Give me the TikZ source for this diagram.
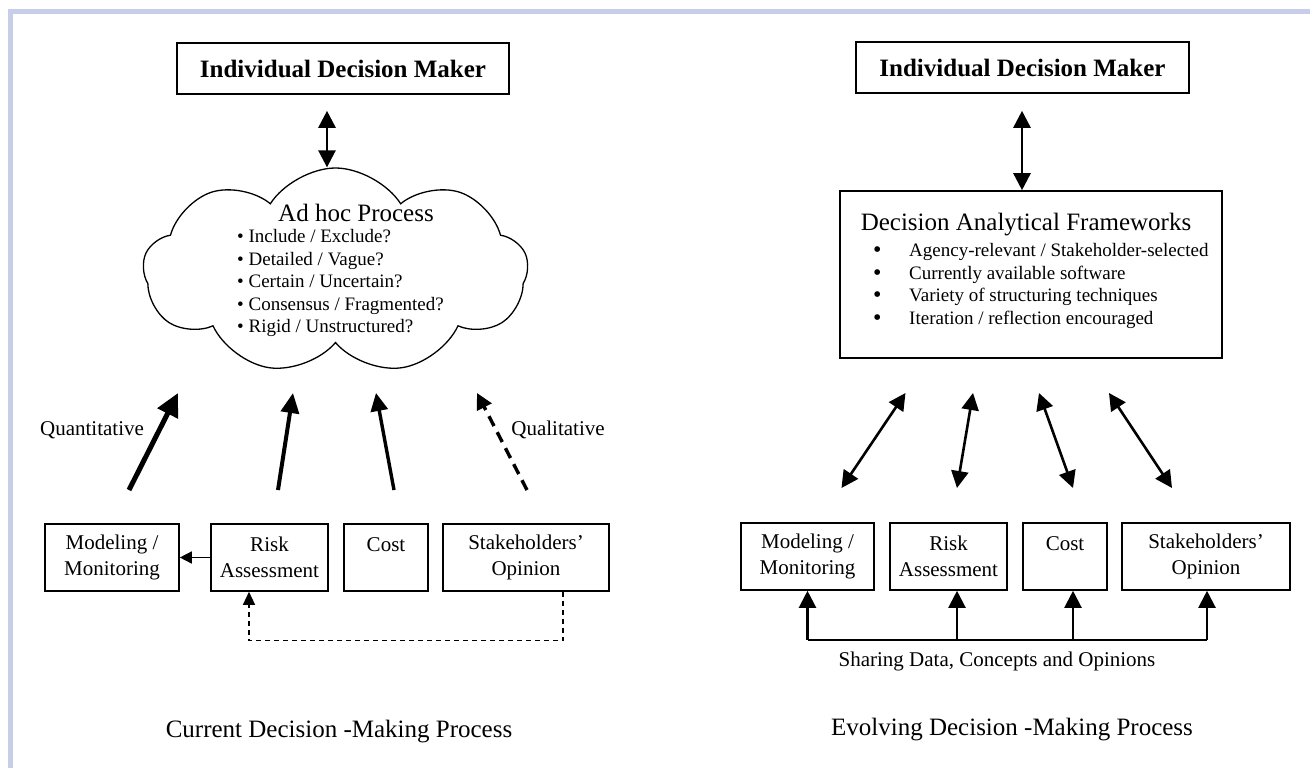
\documentclass[tikz,border=0pt]{standalone}
\usepackage{fontspec}
\setmainfont{Liberation Serif}
\usetikzlibrary{arrows.meta,positioning,shapes.symbols,calc}
\definecolor{framecol}{RGB}{200,206,234}

\newcommand{\titlefont}{\fontsize{25}{28}\selectfont}
\newcommand{\boxfont}{\fontsize{21}{26}\selectfont}
\newcommand{\listfont}{\fontsize{19}{22.5}\selectfont}
\newcommand{\bigdot}{\makebox[36pt][l]{\raisebox{-1pt}{\fontsize{24}{22.5}\selectfont\textbullet}}}

\tikzset{
  box/.style={draw, line width=1.6pt, align=center, inner sep=0pt, minimum height=67pt, font=\boxfont},
  topbox/.style={draw, line width=1.6pt, inner sep=0pt, minimum height=51pt, font=\titlefont\bfseries},
  dbl/.style={line width=2.6pt, {Triangle[length=17pt,width=17pt]}-{Triangle[length=17pt,width=17pt]}},
  uparrow/.style={line width=2.2pt, -{Triangle[length=17pt,width=17pt]}},
  thinarrow/.style={line width=1.4pt, -{Triangle[length=12pt,width=12pt]}},
  feedback/.style={line width=1.3pt, dash pattern=on 5pt off 4pt, -{Triangle[length=13pt,width=12pt]}},
  lbl/.style={font=\boxfont, inner sep=0pt}
}

\begin{document}
\begin{tikzpicture}[x=1pt, y=-1pt]
\useasboundingbox (0,0) rectangle (1310,768);
\fill[framecol] (8,9) rectangle (1310,14);
\fill[framecol] (8,9) rectangle (13,768);

% current process
\node[topbox, minimum width=332pt] (idmL) at (343,68.5) {Individual Decision Maker};
\node[cloud, draw, line width=1.3pt, cloud puffs=9, cloud puff arc=115, aspect=1.9, shape border rotate=20,
      minimum width=385pt, minimum height=206pt, inner sep=0pt] (adhoc) at (335.5,271) {};
\node[font=\titlefont, inner sep=0pt] (adhocTitle) at (356,213) {Ad hoc Process};
\node[font=\listfont, align=left, anchor=west, inner sep=0pt] (adhocList) at (237,283)
  {\textbullet{} Include / Exclude?\\ \textbullet{} Detailed / Vague?\\ \textbullet{} Certain / Uncertain?\\
   \textbullet{} Consensus / Fragmented?\\ \textbullet{} Rigid / Unstructured?};
\draw[dbl] ([xshift=-16pt,yshift=-16pt]idmL.south) -- ([xshift=-8.5pt]adhoc.north);

\node[box, minimum width=134pt] (modL) at (112,557.5) {Modeling /\\ Monitoring};
\node[box, minimum width=117pt] (riskL) at (269.5,557.5) {Risk\\ Assessment};
\node[box, minimum width=84pt] (costL) at (386,557.5) {Cost\\ \phantom{C}};
\node[box, minimum width=166pt] (stakeL) at (526,557.5) {Stakeholders'\\ Opinion};

\coordinate (qntS) at (129,490); \coordinate (qntE) at (178,393);
\coordinate (rskS) at (278,490); \coordinate (rskE) at (293,393);
\coordinate (cstS) at (394,490); \coordinate (cstE) at (376,393);
\coordinate (qlS) at (527,490); \coordinate (qlE) at (477,393);
\draw[line width=5pt, -{Triangle[length=23pt,width=22pt]}] (qntS) -- (qntE);
\draw[line width=4pt, -{Triangle[length=20pt,width=18pt]}] (rskS) -- (rskE);
\draw[line width=3.4pt, -{Triangle[length=18pt,width=17pt]}] (cstS) -- (cstE);
\draw[line width=3.4pt, dash pattern=on 11pt off 7pt, -{Triangle[length=16pt,width=16pt]}] (qlS) -- (qlE);
\node[lbl] (quant) at (92,430) {Quantitative};
\node[lbl] (qual) at (558,430) {Qualitative};

\draw[thinarrow] (riskL.west) -- (modL.east);
\draw[feedback] ([xshift=37pt]stakeL.south) -- ++(0,49) -| ([xshift=-20.5pt]riskL.south);
\node[font=\titlefont, inner sep=0pt] (capL) at (339,732) {Current Decision -Making Process};

% evolving process
\node[topbox, minimum width=333pt] (idmR) at (1022.5,67.5) {Individual Decision Maker};
\node[draw, line width=1.6pt, minimum width=382pt, minimum height=167pt] (dafR) at (1031,274.5) {};
\node[font=\titlefont, inner sep=0pt] (dafTitle) at (1026,225) {Decision Analytical Frameworks};
\node[font=\listfont, align=left, anchor=west, inner sep=0pt] (dafList) at (873,286)
  {\bigdot Agency-relevant / Stakeholder-selected\\
   \bigdot Currently available software\\
   \bigdot Variety of structuring techniques\\
   \bigdot Iteration / reflection encouraged};
\draw[dbl] ([xshift=-0.5pt,yshift=-17pt]idmR.south) -- ([xshift=-9pt]dafR.north);

\node[box, minimum width=133pt] (modR) at (807.5,556.5) {Modeling /\\ Monitoring};
\node[box, minimum width=117pt] (riskR) at (948.5,556.5) {Risk\\ Assessment};
\node[box, minimum width=84pt] (costR) at (1065,556.5) {Cost\\ \phantom{C}};
\node[box, minimum width=168pt] (stakeR) at (1206,556.5) {Stakeholders'\\ Opinion};

\coordinate (a1S) at (841.5,488); \coordinate (a1E) at (905.5,393);
\coordinate (a2S) at (957,488); \coordinate (a2E) at (973,393);
\coordinate (a3S) at (1073,488); \coordinate (a3E) at (1039,393);
\coordinate (a4S) at (1172,488); \coordinate (a4E) at (1109,393);
\foreach \p in {a1,a2,a3,a4} \draw[dbl] (\p S) -- (\p E);

\draw[line width=2.2pt] ($(modR.south)+(0,49)$) -- ($(stakeR.south)+(1,49)$);
\foreach \n/\dx in {modR/0, riskR/8.5, costR/8, stakeR/1}
  \draw[uparrow] ($(\n.south)+(\dx,49)$) -- ($(\n.south)+(\dx,0)$);
\node[lbl] (sharing) at (997,661) {Sharing Data, Concepts and Opinions};
\node[font=\titlefont, inner sep=0pt] (capR) at (1012,730) {Evolving Decision -Making Process};
\end{tikzpicture}
\end{document}
